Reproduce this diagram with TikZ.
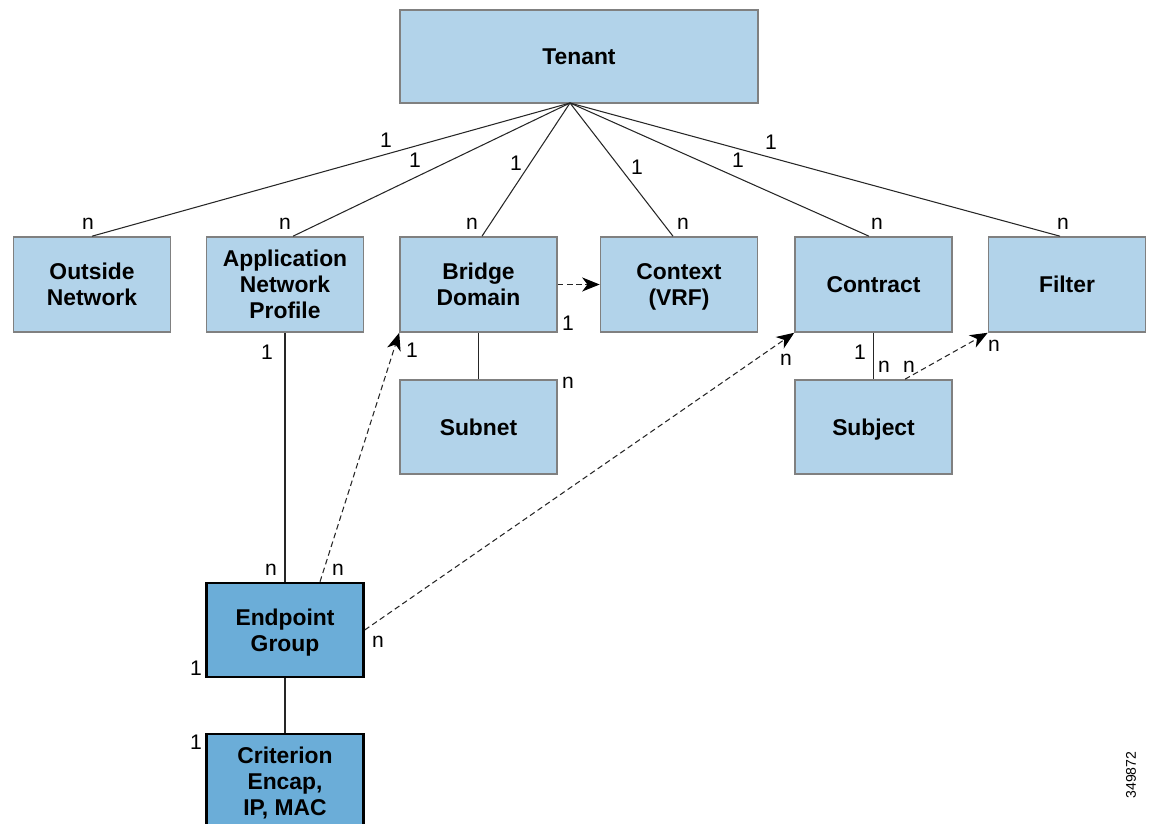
\documentclass[tikz,border=0pt]{standalone}
\usepackage{fontspec}
\setmainfont{Liberation Sans}
\usetikzlibrary{arrows.meta}
\definecolor{boxfill}{RGB}{178,211,234}
\definecolor{epgfill}{RGB}{107,173,216}
\definecolor{boxline}{RGB}{128,128,128}
\begin{document}
\begin{tikzpicture}[
    obj/.style={draw=boxline, line width=0.9pt, fill=boxfill, minimum width=3.14cm,
        minimum height=1.9cm, align=center, inner sep=0pt, text depth=0pt,
        font=\fontsize{13}{14.7}\selectfont\bfseries},
    epg/.style={obj, draw=black, line width=1.4pt, fill=epgfill},
    rel/.style={line width=0.6pt, draw=black!85},
    ref/.style={rel, dash pattern=on 3.2pt off 2pt,
        -{Stealth[length=10pt,width=8pt,inset=3pt,black]}},
    card/.style={font=\fontsize{12}{12}\selectfont, inner sep=0pt}
]
\useasboundingbox (0,0) rectangle (23,16.48);
\clip (0,0) rectangle (23,16.48);

% Drawing objects
\node [obj, minimum width=7.16cm, minimum height=1.86cm] (tenant) at (11.58,15.35) {Tenant};
\node [obj] (outside) at (1.84,10.79) {Outside\\Network};
\node [obj] (anp) at (5.70,10.79) {Application\\Network\\Profile};
\node [obj] (bd) at (9.57,10.79) {Bridge\\Domain};
\node [obj] (ctx) at (13.58,10.79) {Context\\(VRF)};
\node [obj] (contract) at (17.47,10.79) {Contract};
\node [obj] (filter) at (21.34,10.79) {Filter};
\node [obj, minimum height=1.88cm] (subnet) at (9.57,7.94) {Subnet};
\node [obj, minimum height=1.88cm] (subject) at (17.47,7.94) {Subject};
\node [epg, minimum height=1.88cm] (epg) at (5.70,3.88) {Endpoint\\Group};
\node [epg] (crit) at (5.70,0.85) {Criterion\\Encap,\\IP, MAC};

% Drawing tenant relations
\coordinate (hub) at (11.40,14.42);
\draw [rel] (hub) -- (outside.north);%
\draw [rel] (hub) -- ([xshift=0.16cm]anp.north);%
\draw [rel] (hub) -- ([xshift=0.07cm]bd.north);%
\draw [rel] (hub) -- ([xshift=-0.12cm]ctx.north);%
\draw [rel] (hub) -- ([xshift=-0.09cm]contract.north);%
\draw [rel] (hub) -- ([xshift=-0.14cm]filter.north);%

% Drawing containment
\draw [rel] (bd) -- (subnet);%
\draw [rel] (contract) -- (subject);%
\draw [rel] (anp) -- (epg);%
\draw [rel] (epg) -- (crit);%

% Drawing references
\draw [ref] (bd.east) -- (ctx.west);%
\draw [ref] ([xshift=0.7cm]epg.north) -- (bd.south west);%
\draw [ref] (epg.east) -- (contract.south west);%
\draw [ref] ([xshift=0.63cm]subject.north) -- (filter.south west);%

% Marking cardinalities
\node [card] (c1) at (7.72,13.68) {1};
\node [card] (c2) at (8.30,13.28) {1};
\node [card] (c3) at (10.32,13.22) {1};
\node [card] (c4) at (12.74,13.14) {1};
\node [card] (c5) at (14.76,13.28) {1};
\node [card] (c6) at (15.42,13.64) {1};
\node [card] (c7) at (1.76,12.00) {n};
\node [card] (c8) at (5.70,12.00) {n};
\node [card] (c9) at (9.44,12.00) {n};
\node [card] (c10) at (13.66,12.00) {n};
\node [card] (c11) at (17.54,12.00) {n};
\node [card] (c12) at (21.26,12.00) {n};
\node [card] (c13) at (11.36,10.02) {1};
\node [card] (c14) at (11.36,8.82) {n};
\node [card] (c15) at (8.24,9.48) {1};
\node [card] (c16) at (6.76,5.08) {n};
\node [card] (c17) at (7.56,3.64) {n};
\node [card] (c18) at (15.72,9.28) {n};
\node [card] (c19) at (17.20,9.44) {1};
\node [card] (c20) at (17.68,9.14) {n};
\node [card] (c21) at (18.18,9.14) {n};
\node [card] (c22) at (19.88,9.56) {n};
\node [card] (c23) at (5.34,9.44) {1};
\node [card] (c24) at (5.42,5.08) {n};
\node [card] (c25) at (3.92,3.12) {1};
\node [card] (c26) at (3.92,1.64) {1};

% Figure number
\node [font=\fontsize{8}{8}\selectfont, rotate=90] (figid) at (22.62,0.98) {349872};
\end{tikzpicture}
\end{document}
